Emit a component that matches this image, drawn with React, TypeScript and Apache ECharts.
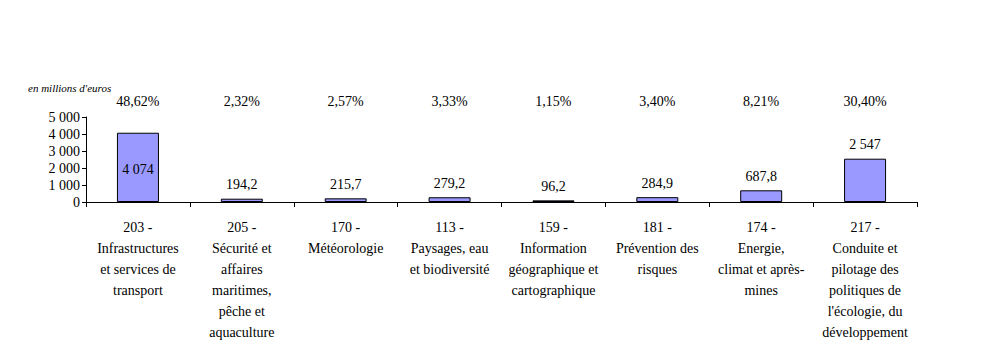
import React, { useEffect, useRef } from "react";
import * as echarts from "echarts";

const categories = [
  "203 -\nInfrastructures\net services de\ntransport",
  "205 -\nSécurité et\naffaires\nmaritimes,\npêche et\naquaculture",
  "170 -\nMétéorologie",
  "113 -\nPaysages, eau\net biodiversité",
  "159 -\nInformation\ngéographique et\ncartographique",
  "181 -\nPrévention des\nrisques",
  "174 -\nEnergie,\nclimat et après-\nmines",
  "217 -\nConduite et\npilotage des\npolitiques de\nl'écologie, du\ndéveloppement",
];
const values = [4074, 194.2, 215.7, 279.2, 96.2, 284.9, 687.8, 2547];
const percents = ["48,62%", "2,32%", "2,57%", "3,33%", "1,15%", "3,40%", "8,21%", "30,40%"];
const yTicks = [0, 1000, 2000, 3000, 4000, 5000];

const FONT = "Times New Roman, Liberation Serif, DejaVu Serif, serif";

function fmt(v: number): string {
  const parts = String(v).split(".");
  const int = parts[0].replace(/\B(?=(\d{3})+(?!\d))/g, " ");
  return parts.length > 1 ? int + "," + parts[1] : int;
}

export default function App() {
  const ref = useRef<HTMLDivElement>(null);
  useEffect(() => {
    if (!ref.current) return;
    const chart = echarts.init(ref.current, null, { renderer: "svg" });
    chart.setOption({
      animation: false,
      backgroundColor: "#ffffff",
      textStyle: { fontFamily: FONT },
      graphic: [
        {
          type: "text",
          left: 28,
          top: 82,
          style: {
            text: "en millions d'euros",
            fontFamily: FONT,
            fontStyle: "italic",
            fontSize: 11,
            fill: "#000",
          },
        },
      ],
      grid: { left: 86, right: 89, top: 117, bottom: 159, containLabel: false },
      xAxis: [
        {
          type: "category",
          data: categories,
          position: "bottom",
          axisLine: { lineStyle: { color: "#000", width: 1 } },
          axisTick: { show: true, length: 5, lineStyle: { color: "#000" } },
          axisLabel: {
            interval: 0,
            color: "#000",
            fontFamily: FONT,
            fontSize: 14,
            lineHeight: 21,
            margin: 15,
            align: "center",
          },
        },
        {
          type: "category",
          data: percents,
          position: "top",
          axisLine: { show: false },
          axisTick: { show: false },
          axisLabel: {
            interval: 0,
            color: "#000",
            fontFamily: FONT,
            fontSize: 14,
            margin: 9,
          },
        },
      ],
      yAxis: {
        type: "value",
        min: yTicks[0],
        max: yTicks[yTicks.length - 1],
        interval: 1000,
        axisLine: { show: true, lineStyle: { color: "#000", width: 1 } },
        axisTick: { show: true, length: 4, lineStyle: { color: "#000" } },
        splitLine: { show: false },
        axisLabel: {
          color: "#000",
          fontFamily: FONT,
          fontSize: 14,
          margin: 6,
          formatter: (v: number) => fmt(v),
        },
      },
      series: [
        {
          type: "bar",
          xAxisIndex: 0,
          barWidth: 42,
          data: values.map((v) =>
            v > 3500
              ? { value: v, label: { position: "inside", offset: [0, 2] } }
              : { value: v }
          ),
          itemStyle: { color: "#9999FF", borderColor: "#000", borderWidth: 1 },
          label: {
            show: true,
            position: "top",
            distance: 7,
            color: "#000",
            fontFamily: FONT,
            fontSize: 14,
            formatter: (p: any) => fmt(p.value),
          },
        },
      ],
    });
    return () => chart.dispose();
  }, []);
  return (
    <div
      ref={ref}
      style={{ position: "fixed", left: 0, top: 0, width: 1006, height: 361 }}
    />
  );
}
